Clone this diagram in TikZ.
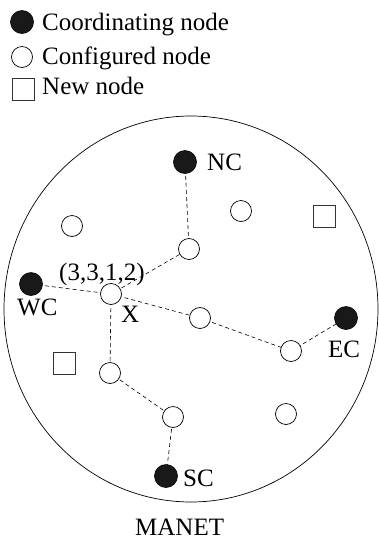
\documentclass[tikz,border=0pt]{standalone}
\usepackage{fontspec}
\setmainfont{Liberation Serif}
\begin{document}
\begin{tikzpicture}[x=1pt,y=-1pt,
  coord/.style={circle,fill=black!90,draw=black,line width=0.6pt,minimum size=23pt,inner sep=0pt},
  conf/.style={circle,draw=black,fill=white,line width=0.7pt,minimum size=21pt,inner sep=0pt},
  newnode/.style={rectangle,draw=black!80,fill=white,line width=0.7pt,minimum size=22pt,inner sep=0pt},
  lbl/.style={anchor=base west,inner sep=0pt,font=\fontsize{25}{29}\selectfont},
  link/.style={dashed,dash pattern=on 4pt off 3pt,line width=0.6pt}]
\useasboundingbox (0,0) rectangle (379,539);

% legend
\node[coord] (k1) at (22,22) {};
\node[lbl] (t1) at (42,30) {Coordinating node};
\node[conf] (k2) at (22,57) {};
\node[lbl] (t2) at (42,64) {Configured node};
\node[newnode] (k3) at (23,89) {};
\node[lbl] (t3) at (42,94) {New node};

% network boundary
\draw[line width=0.7pt] (191,309) ellipse [x radius=187, y radius=193];
\node[lbl] (manet) at (135,535) {MANET};

% links
\coordinate (cNC) at (185,162);
\coordinate (cWC) at (31,284);
\coordinate (cEC) at (346,318);
\coordinate (cSC) at (166,476);
\coordinate (cX) at (111,294);
\coordinate (cA) at (189,249);
\coordinate (cB) at (200,318);
\coordinate (cC) at (291,351);
\coordinate (cD) at (110,373);
\coordinate (cE) at (173,417);
\draw[link] (cNC) -- (cA) -- (cX);
\draw[link] (cWC) -- (cX);
\draw[link] (cX) -- (cB) -- (cC) -- (cEC);
\draw[link] (cX) -- (cD) -- (cE) -- (cSC);

% coordinating nodes
\node[coord] (NC) at (cNC) {};
\node[coord] (WC) at (cWC) {};
\node[coord] (EC) at (cEC) {};
\node[coord] (SC) at (cSC) {};

% configured nodes
\node[conf] (X) at (cX) {};
\node[conf] (A) at (cA) {};
\node[conf] (B) at (cB) {};
\node[conf] (C) at (cC) {};
\node[conf] (D) at (cD) {};
\node[conf] (E) at (cE) {};
\node[conf] (F) at (241,211) {};
\node[conf] (G) at (72,226) {};
\node[conf] (H) at (286,414) {};

% new nodes
\node[newnode] (N1) at (324,216) {};
\node[newnode] (N2) at (64,363) {};

% labels
\node[lbl] (lNC) at (207,170) {NC};
\node[lbl] (lWC) at (17,315) {WC};
\node[lbl] (lEC) at (328,357) {EC};
\node[lbl] (lSC) at (183,486) {SC};
\node[lbl] (lX) at (121,322) {X};
\node[lbl] (lid) at (59,280) {(3,3,1,2)};
\end{tikzpicture}
\end{document}
